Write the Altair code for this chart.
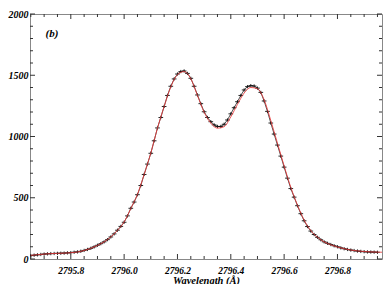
import altair as alt
import pandas as pd

# Observed profile: regular wavelength grid (Angstrom) and measured intensity
obs_start = 2795.65
obs_step = 0.0125
obs_flux = [28, 31, 34, 37, 40, 42, 44, 45, 46, 47, 48, 50, 52, 55, 58, 63, 70, 78, 87, 99,
            112, 125, 140, 158, 180, 205, 235, 266, 300, 352, 414, 465, 525, 600, 690, 775,
            863, 965, 1070, 1155, 1245, 1335, 1410, 1470, 1510, 1530, 1535, 1515, 1475, 1410,
            1339, 1268, 1202, 1155, 1121, 1095, 1082, 1082, 1100, 1135, 1185, 1235, 1284, 1335,
            1380, 1407, 1415, 1412, 1395, 1360, 1290, 1205, 1110, 1020, 930, 840, 750, 660,
            575, 505, 435, 370, 312, 265, 228, 200, 177, 157, 140, 128, 118, 108, 100, 91,
            84, 78, 73, 69, 65, 62, 60, 58, 57, 56, 55]
obs_wave = [round(obs_start + i * obs_step, 4) for i in range(len(obs_flux))]

# Fitted profile
fit_wave = [2795.650, 2795.675, 2795.700, 2795.725, 2795.750, 2795.775, 2795.800, 2795.825,
            2795.850, 2795.875, 2795.900, 2795.925, 2795.950, 2795.975, 2796.000, 2796.025,
            2796.050, 2796.075, 2796.100, 2796.125, 2796.150, 2796.175, 2796.200, 2796.225,
            2796.250, 2796.275, 2796.300, 2796.325, 2796.350, 2796.375, 2796.400, 2796.425,
            2796.450, 2796.475, 2796.500, 2796.525, 2796.550, 2796.575, 2796.600, 2796.625,
            2796.650, 2796.675, 2796.700, 2796.725, 2796.750, 2796.775, 2796.800, 2796.825,
            2796.850, 2796.875, 2796.900, 2796.925, 2796.950, 2796.975]
fit_flux = [30, 35, 40, 44, 46, 48, 51, 57, 69, 87, 111, 140, 180, 234, 302, 412, 528, 690,
            865, 1068, 1245, 1405, 1505, 1530, 1472, 1335, 1198, 1110, 1068, 1080, 1160, 1262,
            1355, 1400, 1390, 1300, 1130, 945, 760, 585, 440, 318, 232, 178, 140, 116, 98, 84,
            73, 66, 61, 58, 56, 55]

x_major = [2795.8, 2796.0, 2796.2, 2796.4, 2796.6, 2796.8]
x_minor = [2795.65, 2795.7, 2795.75, 2795.85, 2795.9, 2795.95, 2796.05, 2796.1, 2796.15,
           2796.25, 2796.3, 2796.35, 2796.45, 2796.5, 2796.55, 2796.65, 2796.7, 2796.75,
           2796.85, 2796.9, 2796.95]
y_major = [0, 500, 1000, 1500, 2000]
y_minor = [100, 200, 300, 400, 600, 700, 800, 900, 1100, 1200, 1300, 1400,
           1600, 1700, 1800, 1900]
panel_label = "(b)"

W, H = 352, 245
FONT = "Liberation Serif"

obs_df = pd.DataFrame({"wave": obs_wave, "flux": obs_flux})
fit_df = pd.DataFrame({"wave": fit_wave, "flux": fit_flux})

xscale = alt.Scale(domain=[2795.647, 2796.967], nice=False, zero=False)
yscale = alt.Scale(domain=[0, 2000], nice=False)

xaxis = alt.Axis(values=x_major, format=".1f", ticks=False, tickSize=0, domain=False,
                 grid=False, labelFont=FONT, labelFontSize=9.5, labelFontWeight="bold",
                 labelFontStyle="italic", labelColor="black", labelPadding=6,
                 title="Wavelength (Å)", titleFont=FONT, titleFontSize=10.5,
                 titleFontWeight="bold", titleFontStyle="italic", titleColor="black",
                 titlePadding=1)
yaxis = alt.Axis(values=y_major, format="d", ticks=False, tickSize=0, domain=False,
                 grid=False, labelFont=FONT, labelFontSize=10, labelFontWeight="bold",
                 labelFontStyle="italic", labelColor="black", labelPadding=2, title=None)

base_x = alt.X("wave:Q", scale=xscale, axis=xaxis)
base_y = alt.Y("flux:Q", scale=yscale, axis=yaxis)

obs_line = alt.Chart(obs_df).mark_line(color="#222222", strokeWidth=0.8, clip=True).encode(
    x=base_x, y=base_y)
obs_pts = alt.Chart(obs_df).mark_point(
    shape="M-1,0L1,0M0,-0.7L0,0.7", size=22, filled=False, color="#111111",
    strokeWidth=0.9, opacity=1, clip=True).encode(
    x=alt.X("wave:Q", scale=xscale), y=alt.Y("flux:Q", scale=yscale))
fit_line = alt.Chart(fit_df).mark_line(color="#e8383a", strokeWidth=1, opacity=0.85,
                                       interpolate="monotone", clip=True).encode(
    x=alt.X("wave:Q", scale=xscale), y=alt.Y("flux:Q", scale=yscale))

def xticks(vals, length):
    df = pd.DataFrame({"wave": vals})
    bottom = alt.Chart(df).mark_rule(color="#333333", strokeWidth=1).encode(
        x=alt.X("wave:Q", scale=xscale), y=alt.value(H), y2=alt.value(H - length))
    top = alt.Chart(df).mark_rule(color="#333333", strokeWidth=1).encode(
        x=alt.X("wave:Q", scale=xscale), y=alt.value(0), y2=alt.value(length))
    return bottom + top

def yticks(vals, length):
    df = pd.DataFrame({"flux": vals})
    left = alt.Chart(df).mark_rule(color="#333333", strokeWidth=1).encode(
        y=alt.Y("flux:Q", scale=yscale), x=alt.value(0), x2=alt.value(length))
    right = alt.Chart(df).mark_rule(color="#333333", strokeWidth=1).encode(
        y=alt.Y("flux:Q", scale=yscale), x=alt.value(W), x2=alt.value(W - length))
    return left + right

label = alt.Chart(pd.DataFrame({"t": [panel_label]})).mark_text(
    font=FONT, fontSize=11, fontWeight="bold", fontStyle="italic", color="black",
    align="center", baseline="middle").encode(
    text="t:N", x=alt.value(22), y=alt.value(20))

chart = alt.layer(
    obs_line, obs_pts, fit_line,
    xticks(x_major, 5), xticks(x_minor, 3), yticks(y_major, 5), yticks(y_minor, 3),
    label,
).properties(
    width=W, height=H,
    autosize=alt.AutoSizeParams(type="none"),
    padding={"left": 22, "top": 6, "right": 2, "bottom": 30},
    background="white",
).configure_view(stroke="#888888", strokeWidth=1)

chart.save("out.html", embed_options={"renderer": "svg", "actions": False})
